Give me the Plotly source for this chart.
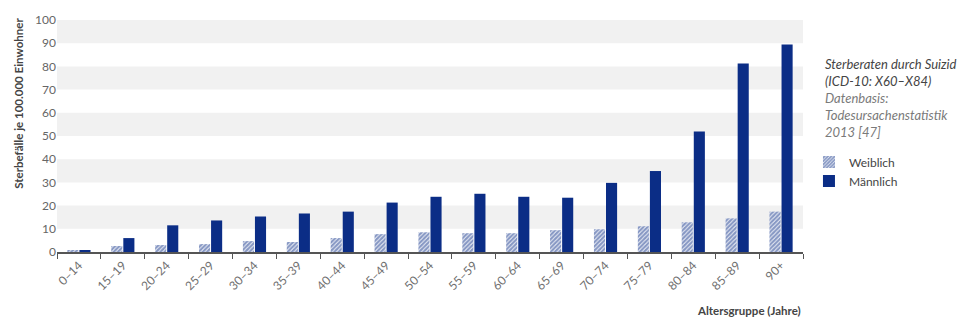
import plotly.graph_objects as go

categories = ["0–14", "15–19", "20–24", "25–29", "30–34", "35–39", "40–44", "45–49",
              "50–54", "55–59", "60–64", "65–69", "70–74", "75–79", "80–84", "85–89", "90+"]
weiblich = [0.5, 2.6, 3.0, 3.4, 4.7, 4.3, 6.0, 7.7, 8.5, 8.1, 8.1, 9.4, 9.8, 11.1, 12.8, 14.5, 17.4]
maennlich = [0.6, 6.0, 11.5, 13.6, 15.3, 16.6, 17.4, 21.3, 23.8, 25.1, 23.8, 23.4, 29.8, 34.9, 51.9, 81.3, 89.4]
y_ticks = [0, 10, 20, 30, 40, 50, 60, 70, 80, 90, 100]
note_lines = ["Sterberaten durch Suizid", "(ICD-10: X60–X84)", "Datenbasis:",
              "Todesursachenstatistik", "2013 [47]"]

BLUE = "#0b2d86"
FONT = "Lato"

fig = go.Figure()
fig.add_trace(go.Bar(
    x=categories, y=weiblich, name="Weiblich",
    marker=dict(color="white", line=dict(width=0),
                pattern=dict(shape="/", fgcolor="#0f3189", bgcolor="#ffffff",
                             size=3, solidity=0.75)),
))
fig.add_trace(go.Bar(
    x=categories, y=maennlich, name="Männlich",
    marker=dict(color=BLUE, line=dict(width=0)),
))

# alternating background bands
for lo in range(10, 100, 20):
    fig.add_shape(type="rect", xref="paper", x0=0, x1=1, yref="y", y0=lo, y1=lo + 10,
                  fillcolor="#f1f1f1", line=dict(width=0), layer="below")

fig.update_layout(
    width=968, height=331,
    margin=dict(l=57, r=165, t=17, b=79),
    paper_bgcolor="white", plot_bgcolor="white",
    barmode="group", bargap=0.45, bargroupgap=0.08,
    font=dict(family=FONT, size=12, color="#666666"),
    showlegend=True,
    legend=dict(x=1.008, xanchor="left", y=0.45, yanchor="top",
                font=dict(family=FONT, size=12, color="#444444"),
                itemwidth=30, tracegroupgap=0, bgcolor="rgba(0,0,0,0)"),
    xaxis=dict(range=[-0.5, 16.5], showline=True, linecolor="#555555", linewidth=1.5,
               ticks="outside", tickson="boundaries", ticklen=5, tickcolor="#555555",
               tickangle=-45, showgrid=False, tickfont=dict(size=12, color="#707070")),
    yaxis=dict(range=[0, 100], tickvals=y_ticks, showgrid=False, zeroline=False,
               showline=False, ticks="", tickfont=dict(size=12, color="#666666")),
)

fig.add_annotation(text="<b>Sterbefälle je 100.000 Einwohner</b>", textangle=-90,
                   xref="paper", yref="paper", x=-0.052, y=0.64, xanchor="center",
                   yanchor="middle", showarrow=False,
                   font=dict(family=FONT, size=11.5, color="#444444"))
fig.add_annotation(text="<b>Altersgruppe (Jahre)</b>", xref="paper", yref="paper",
                   x=1.0, y=-0.25, xanchor="right", yanchor="middle", showarrow=False,
                   font=dict(family=FONT, size=11.5, color="#444444"))

for i, line in enumerate(note_lines):
    col = "#444444" if i < 2 else "#7a7a7a"
    fig.add_annotation(text="<i>" + line + "</i>", xref="paper", yref="paper",
                       x=1.027, y=(252 - 62 - i * 17) / 235, xanchor="left", yanchor="middle",
                       showarrow=False, align="left",
                       font=dict(family=FONT, size=13, color=col))

fig.write_html("out.html")
